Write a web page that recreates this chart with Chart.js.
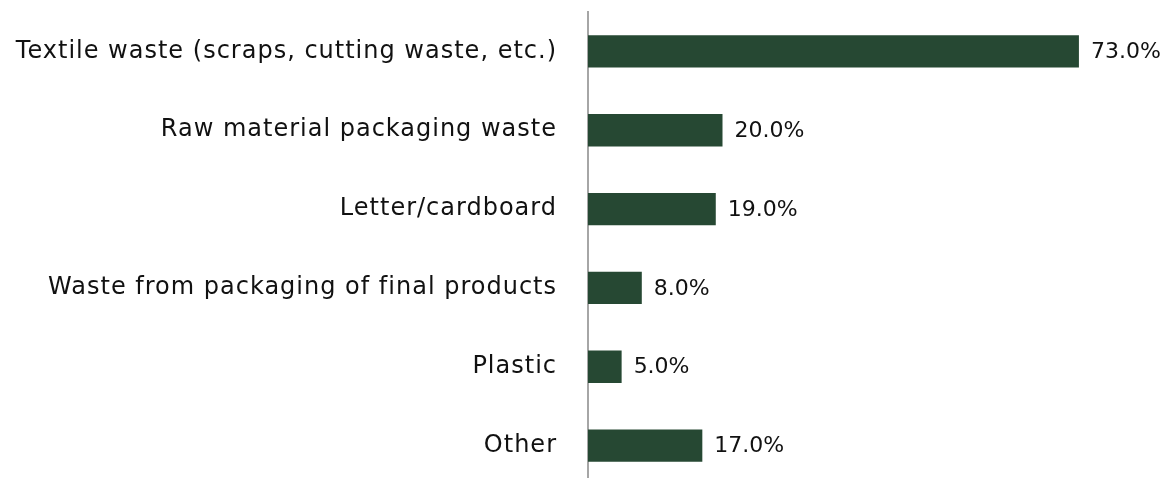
<!DOCTYPE html>
<html>
<head>
<meta charset="utf-8">
<script src="https://cdn.jsdelivr.net/npm/chart.js@4"></script>
<style>
  html, body { margin: 0; padding: 0; background: #fff; overflow: hidden; }
  #wrap { width: 1170px; height: 485px; position: relative; }
</style>
</head>
<body>
<div id="wrap"><canvas id="chart"></canvas></div>
<script>
// categorias y valores (%)
const categorias = [
  "Textile waste (scraps, cutting waste, etc.)",
  "Raw material packaging waste",
  "Letter/cardboard",
  "Waste from packaging of final products",
  "Plastic",
  "Other"
];
const valores = [73, 20, 19, 8, 5, 17];

const fuente = "'DejaVu Sans', 'Open Sans', sans-serif";

// espaciado de letras para acercarse al ancho de la fuente original
const espaciado = {
  id: "espaciado",
  beforeDraw(chart) {
    chart.ctx.letterSpacing = "1px";
  }
};

// etiquetas de valor al final de cada barra
const etiquetasValor = {
  id: "etiquetasValor",
  afterDatasetsDraw(chart) {
    const c = chart.ctx;
    const meta = chart.getDatasetMeta(0);
    c.save();
    c.letterSpacing = "0px";
    c.font = "22px " + fuente;
    c.fillStyle = "#111";
    c.textAlign = "left";
    c.textBaseline = "middle";
    meta.data.forEach((bar, i) => {
      c.fillText(valores[i].toFixed(1) + "%", bar.x + 12, bar.y + 1);
    });
    c.restore();
  }
};

new Chart(document.getElementById("chart"), {
  type: "bar",
  data: {
    labels: categorias,
    datasets: [{
      data: valores,
      backgroundColor: "#264833",
      borderWidth: 0,
      barPercentage: 0.41,
      categoryPercentage: 1
    }]
  },
  options: {
    indexAxis: "y",
    responsive: true,
    maintainAspectRatio: false,
    animation: false,
    layout: { padding: { top: 12, right: 44, left: 0, bottom: 0 } },
    plugins: { legend: { display: false }, tooltip: { enabled: false } },
    scales: {
      x: { display: false, min: 0, max: 80 },
      y: {
        afterFit: (s) => {
          s.width = 588;
          s.paddingTop = 0;
          s.paddingBottom = 0;
        },
        grid: { display: false, drawTicks: false },
        border: { display: true, color: "#a6a6a6", width: 2 },
        ticks: {
          padding: 31,
          color: "#111",
          font: { family: fuente, size: 24 }
        }
      }
    }
  },
  plugins: [espaciado, etiquetasValor]
});
</script>
</body>
</html>
